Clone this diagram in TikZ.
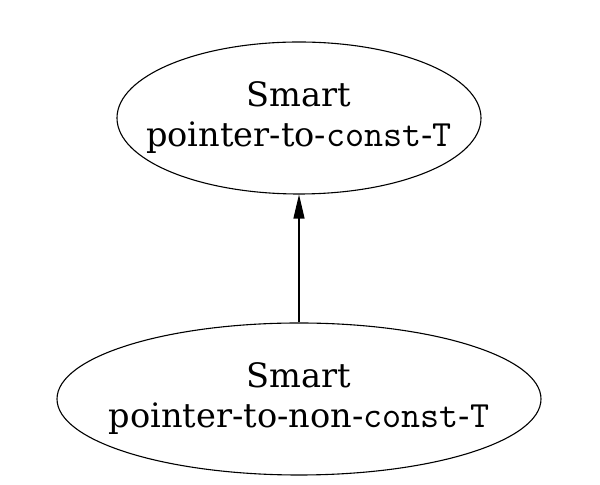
\documentclass[tikz,border=0pt]{standalone}
\usepackage{fontspec}
\setmainfont{DejaVu Serif}
\usepackage{tikz}
\usetikzlibrary{shapes.geometric, positioning, arrows.meta}

% code words in the labels
\newcommand{\codeword}[1]{{\fontsize{18.5}{20}\ttfamily #1}}

\begin{document}
\begin{tikzpicture}[
        x=0.5pt, y=-0.5pt,
        % Style for the pointer nodes (size set by minimum width/height only)
        ptrnode/.style={
            draw,
            ellipse,
            line width=0.55pt,
            inner xsep=-60pt,
            inner ysep=-20pt,
            align=center,
            font=\fontsize{16.8}{20}\selectfont
        },
        % Style for the conversion arrow
        conv_arrow/.style={
            -{Triangle[length=12pt, width=5.5pt]},
            line width=0.6pt
        }
    ]

    % fixed frame, same size as the reference
    \useasboundingbox (0,0) rectangle (600,485);

    % ==========================================
    % POINTER NODES
    % ==========================================
    \node[ptrnode, minimum width=182pt, minimum height=76pt] (constT) at (299,118)
        {Smart\\pointer-to-\codeword{const}-\codeword{T}};
    \node[ptrnode, minimum width=242pt, minimum height=76pt] (nonconstT) at (299,399)
        {Smart\\pointer-to-non-\codeword{const}-\codeword{T}};

    % non-const converts to const
    \draw[conv_arrow] (nonconstT) -- (constT);

\end{tikzpicture}
\end{document}
